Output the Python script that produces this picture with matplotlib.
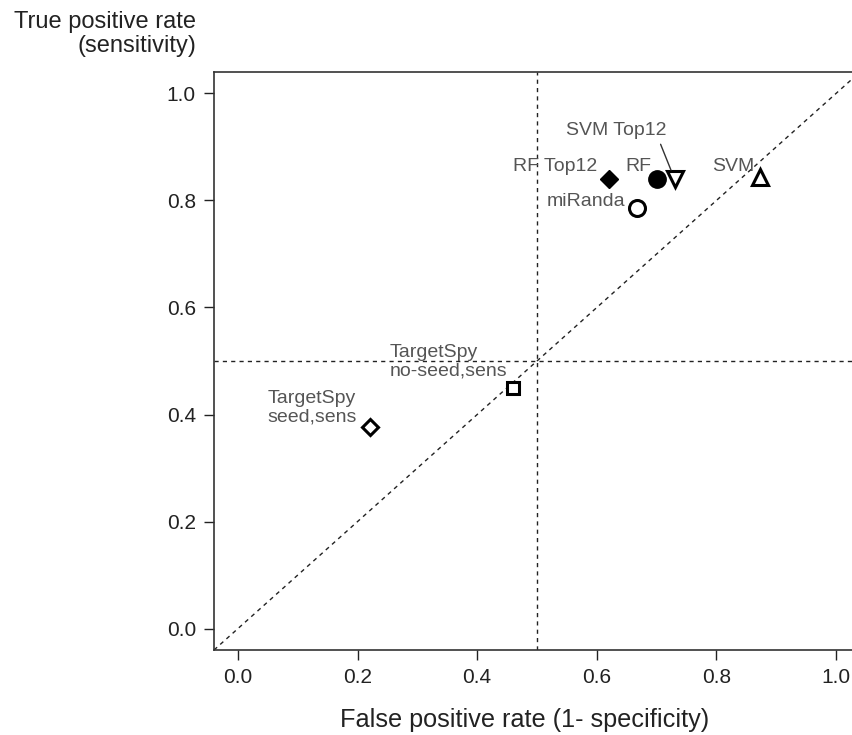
import numpy as np
import matplotlib
matplotlib.use('Agg')
import matplotlib.pyplot as plt

plt.rcParams['font.family'] = ['Liberation Sans', 'DejaVu Sans']

methods = ['RF Top12', 'RF', 'SVM Top12', 'SVM', 'miRanda',
           'TargetSpy\nno-seed,sens', 'TargetSpy\nseed,sens']
fpr = [0.62, 0.70, 0.73, 0.873, 0.668, 0.46, 0.221]
tpr = [0.84, 0.84, 0.84, 0.843, 0.785, 0.45, 0.377]

# marker style per method: (marker, size, filled)
styles = {
    'RF Top12': ('D', 9, True),
    'RF': ('o', 12.5, True),
    'SVM Top12': ('v', 11, False),
    'SVM': ('^', 11, False),
    'miRanda': ('o', 11.5, False),
    'TargetSpy\nno-seed,sens': ('s', 9, False),
    'TargetSpy\nseed,sens': ('D', 8.5, False),
}
# label offsets in points and alignment
label_pos = {
    'RF Top12': (-8, 9, 'right'),
    'RF': (-4, 9, 'right'),
    'SVM Top12': (-42, 35, 'center'),
    'SVM': (-4, 8, 'right'),
    'miRanda': (-9, 5, 'right'),
    'TargetSpy\nno-seed,sens': (-89, 19, 'left'),
    'TargetSpy\nseed,sens': (-74, 14, 'left'),
}

fig = plt.figure(figsize=(8.52, 7.35), dpi=100)
ax = fig.add_axes([214 / 852, 85 / 735, 646 / 852, 578 / 735])

ax.plot([-0.04, 1.04], [-0.04, 1.04], ls=(0, (3, 3)), color='#222222', lw=1)
ax.axvline(0.5, ls=(0, (3, 3)), color='#222222', lw=1)
ax.axhline(0.5, ls=(0, (3, 3)), color='#222222', lw=1)

for m, x, y in zip(methods, fpr, tpr):
    mk, ms, filled = styles[m]
    ax.plot(x, y, marker=mk, ms=ms, mec='black', mew=2.2 if not filled else 1,
            mfc='black' if filled else 'white', ls='none', zorder=3)
    dx, dy, ha = label_pos[m]
    if m == 'SVM Top12':
        ax.annotate(m, (x, y), xytext=(dx, dy), textcoords='offset points',
                    ha=ha, va='center', fontsize=14, color='#555555',
                    arrowprops=dict(arrowstyle='-', color='#333333', lw=1,
                                    relpos=(0.92, 0.0), shrinkA=2, shrinkB=7))
    else:
        ax.annotate(m, (x, y), xytext=(dx, dy), textcoords='offset points',
                    ha=ha, va='center', fontsize=14, color='#555555',
                    linespacing=1.1, multialignment='left')

ax.set_xlim(-0.04, 1.04)
ax.set_ylim(-0.04, 1.04)
ticks = [0.0, 0.2, 0.4, 0.6, 0.8, 1.0]
ax.set_xticks(ticks)
ax.set_yticks(ticks)
ax.set_xticklabels(['%.1f' % t for t in ticks])
ax.set_yticklabels(['%.1f' % t for t in ticks])
ax.tick_params(direction='out', length=7, width=1, labelsize=15,
               colors='#222222', pad=6)
for sp in ax.spines.values():
    sp.set_color('#333333')
    sp.set_linewidth(1.2)

fig.text(525 / 852, 8 / 735, 'False positive rate (1- specificity)',
         ha='center', va='baseline', fontsize=18.2, color='#222222')
fig.text(196 / 852, 1 - 11 / 735, 'True positive rate\n(sensitivity)',
         ha='right', va='top', fontsize=17, color='#222222',
         multialignment='right', linespacing=1.1)

fig.savefig('out.png', dpi=100)
